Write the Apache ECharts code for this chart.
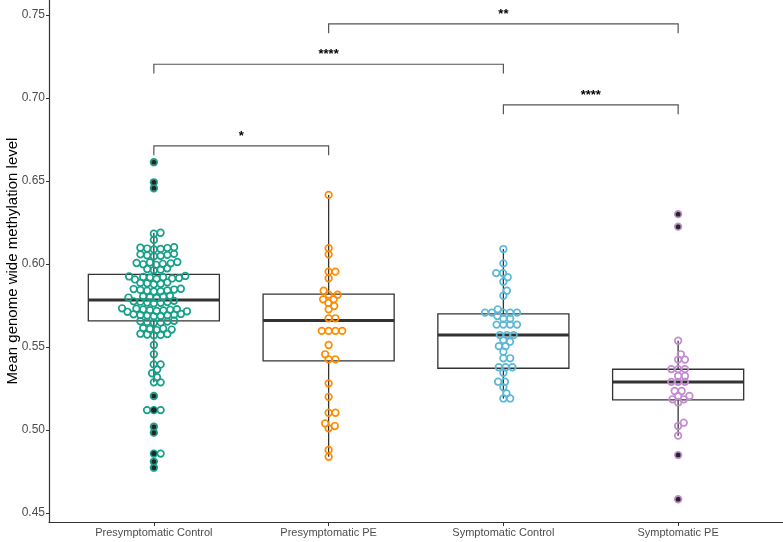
<!DOCTYPE html>
<html>
<head>
<meta charset="utf-8">
<script src="https://cdn.jsdelivr.net/npm/echarts@6/dist/echarts.min.js"></script>
<style>
html, body { margin: 0; padding: 0; background: #fff; }
#main { width: 783px; height: 542px; }
</style>
</head>
<body>
<div id="main"></div>
<script>
var chartDom = document.getElementById('main');
var myChart = echarts.init(chartDom);
var option;

// groups along the x axis
var categories = ['Presymptomatic Control', 'Presymptomatic PE', 'Symptomatic Control', 'Symptomatic PE'];
var groupColors = ['#16a08a', '#ff8c00', '#5bb8d6', '#c48bd2'];

// individual samples
var presympControl = [
    0.6613, 0.6492, 0.6456,
    0.6188, 0.6182, 0.6145,
    0.6101, 0.6098, 0.6096, 0.6093, 0.6091, 0.6088,
    0.6061, 0.6058, 0.6055, 0.6052, 0.6049, 0.6046,
    0.6012, 0.6009, 0.6006, 0.6004, 0.6001, 0.5998, 0.5995,
    0.5974, 0.5970, 0.5966, 0.5962,
    0.5928, 0.5925, 0.5922, 0.5920, 0.5918, 0.5915, 0.5913, 0.5910, 0.5907,
    0.5889, 0.5886, 0.5884, 0.5881, 0.5878,
    0.5851, 0.5849, 0.5846, 0.5844, 0.5841, 0.5839, 0.5836, 0.5834,
    0.5808, 0.5805, 0.5803, 0.5800, 0.5798, 0.5795,
    0.5778, 0.5775, 0.5773, 0.5771, 0.5768, 0.5766, 0.5763,
    0.5733, 0.5731, 0.5728, 0.5726, 0.5724, 0.5722, 0.5720, 0.5717, 0.5715, 0.5712,
    0.5699, 0.5697, 0.5695, 0.5693, 0.5691, 0.5689, 0.5687, 0.5685,
    0.5658, 0.5655, 0.5653, 0.5651, 0.5648, 0.5646,
    0.5614, 0.5611, 0.5608, 0.5605, 0.5602,
    0.5580, 0.5578, 0.5575, 0.5573, 0.5570,
    0.5512, 0.5456, 0.5395, 0.5395, 0.5365, 0.5342, 0.5318, 0.5287, 0.5287,
    0.5205, 0.5120, 0.5120, 0.5120, 0.5020, 0.4984, 0.4858, 0.4858, 0.4810, 0.4773
];
var presympPE = [
    0.6416, 0.6095, 0.6058, 0.5954, 0.5954, 0.5914,
    0.5839, 0.5815, 0.5815, 0.5787, 0.5787, 0.5765, 0.5747, 0.5727,
    0.5673, 0.5673, 0.5597, 0.5597, 0.5597, 0.5597,
    0.5512, 0.5456, 0.5426, 0.5426, 0.5281, 0.5200, 0.5104, 0.5104,
    0.5040, 0.5024, 0.5010, 0.4880, 0.4839
];
var sympControl = [
    0.6090, 0.6004, 0.5945, 0.5945, 0.5920, 0.5893, 0.5839, 0.5809,
    0.5727, 0.5707, 0.5707, 0.5707, 0.5707, 0.5707, 0.5687, 0.5670, 0.5670,
    0.5635, 0.5635, 0.5635, 0.5635, 0.5572, 0.5572, 0.5572,
    0.5542, 0.5532, 0.5505, 0.5505, 0.5472, 0.5432, 0.5432,
    0.5378, 0.5378, 0.5378, 0.5345, 0.5291, 0.5291,
    0.5257, 0.5221, 0.5190, 0.5190
];
var sympPE = [
    0.6300, 0.6225,
    0.5538, 0.5456, 0.5424, 0.5424, 0.5367, 0.5367, 0.5367, 0.5325, 0.5325,
    0.5290, 0.5290, 0.5290, 0.5235, 0.5235, 0.5205, 0.5205, 0.5185, 0.5185,
    0.5166, 0.5044, 0.5024, 0.4966, 0.4849, 0.4583
];
var groupValues = [presympControl, presympPE, sympControl, sympPE];

// boxplot stats per group: whisker low, Q1, median, Q3, whisker high
var whiskerLow = [0.5287, 0.4839, 0.5190, 0.4966];
var quartile1 = [0.5657, 0.5417, 0.5372, 0.5181];
var medians = [0.5783, 0.5659, 0.5572, 0.5289];
var quartile3 = [0.5938, 0.5819, 0.5699, 0.5366];
var whiskerHigh = [0.6188, 0.6416, 0.6090, 0.5538];

// significance brackets
var bracketFrom = [1, 3, 1, 2];
var bracketTo = [2, 4, 3, 4];
var bracketHeights = [0.6711, 0.6958, 0.7203, 0.7446];
var bracketLabels = ['*', '****', '****', '**'];

var yTicks = [0.45, 0.50, 0.55, 0.60, 0.65, 0.70, 0.75];
var xTicks = [1, 2, 3, 4];

var fontFamily = 'Liberation Sans, Arial, sans-serif';
var boxHalfWidth = 0.375;
var bracketTip = 0.0056;
// beeswarm spacing in px (horizontal / vertical)
var swarmDX = 6.8;
var swarmDY = 5.8;

var boxData = categories.map(function (c, i) {
    return [i + 1, whiskerLow[i], quartile1[i], medians[i], quartile3[i], whiskerHigh[i]];
});
var bracketData = bracketFrom.map(function (f, i) {
    return [f, bracketTo[i], bracketHeights[i]];
});

function renderBox(params, api) {
    var x = api.value(0);
    var lo = api.coord([x, api.value(1)]);
    var q1 = api.coord([x - boxHalfWidth, api.value(2)]);
    var md = api.coord([x, api.value(3)]);
    var q3 = api.coord([x + boxHalfWidth, api.value(4)]);
    var hi = api.coord([x, api.value(5)]);
    return {
        type: 'group',
        children: [
            { type: 'line', shape: { x1: lo[0], y1: lo[1], x2: lo[0], y2: q1[1] }, style: { stroke: '#333', lineWidth: 1.3 } },
            { type: 'line', shape: { x1: hi[0], y1: q3[1], x2: hi[0], y2: hi[1] }, style: { stroke: '#333', lineWidth: 1.3 } },
            { type: 'rect', shape: { x: q1[0], y: q3[1], width: q3[0] - q1[0], height: q1[1] - q3[1] }, style: { fill: '#fff', stroke: '#333', lineWidth: 1.3 } },
            { type: 'line', shape: { x1: q1[0], y1: md[1], x2: q3[0], y2: md[1] }, style: { stroke: '#333', lineWidth: 3 } }
        ]
    };
}

function renderBracket(params, api) {
    var h = api.value(2);
    var a0 = api.coord([api.value(0), h - bracketTip]);
    var a = api.coord([api.value(0), h]);
    var b = api.coord([api.value(1), h]);
    var b0 = api.coord([api.value(1), h - bracketTip]);
    return {
        type: 'group',
        children: [
            { type: 'polyline', shape: { points: [a0, a, b, b0] }, style: { stroke: '#555', lineWidth: 1.2, fill: null } },
            {
                type: 'text', x: (a[0] + b[0]) / 2, y: a[1] - 3,
                style: { text: bracketLabels[params.dataIndex], align: 'center', verticalAlign: 'bottom', fontSize: 13, fontWeight: 'bold', fontFamily: fontFamily, fill: '#000' }
            }
        ]
    };
}

option = {
    animation: false,
    textStyle: { fontFamily: fontFamily },
    grid: { left: 49, right: 0, top: 0, bottom: 20, outerBoundsMode: 'none' },
    xAxis: {
        type: 'value',
        min: 0.4,
        max: 4.6,
        axisLine: { show: true, onZero: false, lineStyle: { color: '#333', width: 1.2 } },
        axisTick: { show: true, customValues: xTicks, length: 4, lineStyle: { color: '#333' } },
        axisLabel: {
            customValues: xTicks,
            formatter: function (v) { return categories[Math.round(v) - 1]; },
            fontSize: 11,
            color: '#4d4d4d',
            margin: 5
        },
        splitLine: { show: false }
    },
    yAxis: {
        type: 'value',
        min: 0.4446,
        max: 0.759,
        name: 'Mean genome wide methylation level',
        nameLocation: 'middle',
        nameGap: 29,
        nameMoveOverlap: false,
        nameTextStyle: { fontSize: 15, color: '#000' },
        axisLine: { show: true, onZero: false, lineStyle: { color: '#333', width: 1.2 } },
        axisTick: { show: true, customValues: yTicks, length: 3, lineStyle: { color: '#333' } },
        axisLabel: {
            customValues: yTicks,
            formatter: function (v) { return v.toFixed(2); },
            fontSize: 12,
            color: '#4d4d4d',
            margin: 4
        },
        splitLine: { show: false }
    },
    series: [
        { type: 'custom', name: 'box', renderItem: renderBox, data: boxData, z: 1, silent: true },
        { type: 'custom', name: 'brackets', renderItem: renderBracket, data: bracketData, z: 1, silent: true }
    ]
};

myChart.setOption(option);

// beeswarm layout (ascending priority) in pixel space, elliptical spacing
function swarm(values, pxPerY) {
    var order = values.map(function (v, i) { return i; })
        .sort(function (a, b) { return values[a] - values[b]; });
    var px = [], py = [], out = [];
    order.forEach(function (idx) {
        var y = values[idx] * pxPerY;
        var cands = [0];
        for (var j = 0; j < py.length; j++) {
            var r = (y - py[j]) / swarmDY;
            if (Math.abs(r) < 1) {
                var off = swarmDX * Math.sqrt(1 - r * r);
                cands.push(px[j] + off, px[j] - off);
            }
        }
        var best = null;
        cands.forEach(function (c) {
            for (var k = 0; k < py.length; k++) {
                var rx = (c - px[k]) / swarmDX, ry = (y - py[k]) / swarmDY;
                if (rx * rx + ry * ry < 1 - 1e-6) return;
            }
            if (best === null || Math.abs(c) < Math.abs(best) - 1e-9) best = c;
        });
        px.push(best);
        py.push(y);
        out[idx] = best;
    });
    return out;
}

var p1 = myChart.convertToPixel({ gridIndex: 0 }, [1, 0.5]);
var p2 = myChart.convertToPixel({ gridIndex: 0 }, [2, 0.6]);
var pxPerX = p2[0] - p1[0];
var pxPerY = (p1[1] - p2[1]) / 0.1;

var extraSeries = [];
groupValues.forEach(function (vals, g) {
    var offs = swarm(vals, pxPerY);
    var pts = vals.map(function (v, i) { return [g + 1 + offs[i] / pxPerX, v]; });
    extraSeries.push({
        type: 'scatter',
        name: categories[g],
        data: pts,
        symbol: 'circle',
        symbolSize: 6.6,
        itemStyle: { color: 'rgba(0,0,0,0)', borderColor: groupColors[g], borderWidth: 1.7, opacity: 1 },
        silent: true,
        z: 3
    });
});

var outlierData = [];
groupValues.forEach(function (vals, g) {
    vals.forEach(function (v) {
        if (v < whiskerLow[g] || v > whiskerHigh[g]) outlierData.push([g + 1, v]);
    });
});
extraSeries.push({
    type: 'scatter',
    name: 'outliers',
    data: outlierData,
    symbol: 'circle',
    symbolSize: 5,
    itemStyle: { color: '#262626', opacity: 1 },
    silent: true,
    z: 4
});

myChart.setOption({ series: option.series.concat(extraSeries) });
</script>
</body>
</html>
